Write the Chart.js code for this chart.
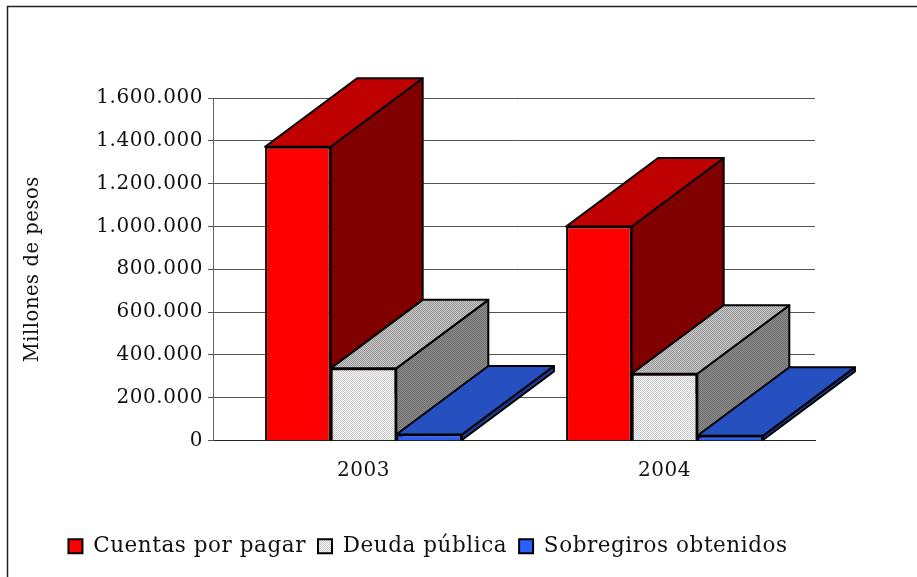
<!DOCTYPE html>
<html><head><meta charset="utf-8">
<style>html,body{margin:0;padding:0;background:#fff;overflow:hidden}#wrap{position:relative;width:917px;height:577px}canvas{display:block}</style>
<script src="https://cdn.jsdelivr.net/npm/chart.js@4"></script>
</head><body><div id="wrap"><canvas id="c" width="917" height="577"></canvas></div>
<script>
const categories = ['2003', '2004'];
const cuentasPorPagar = [1372000, 1000000];
const deudaPublica = [337000, 312000];
const sobregirosObtenidos = [28000, 22000];
const seriesNames = ['Cuentas por pagar', 'Deuda pública', 'Sobregiros obtenidos'];
const yMax = 1600000, yStep = 200000;
const FONT = '"DejaVu Serif"';

function dither(a, b) {
  const p = document.createElement('canvas'); p.width = 2; p.height = 2;
  const x = p.getContext('2d');
  x.fillStyle = a; x.fillRect(0, 0, 2, 2);
  x.fillStyle = b; x.fillRect(0, 0, 1, 1); x.fillRect(1, 1, 1, 1);
  return x.createPattern(p, 'repeat');
}
const DEPTH_X = 92, DEPTH_Y = 68.5;
const faces = [
  {top: '#bf0000', side: '#800000'},
  {top: dither('#c8c8c8', '#969696'), side: dither('#8c8c8c', '#6e6e6e')},
  {top: '#264fbf', side: '#1c3a8f'}
];
const frontFill = ['#ff0000', dither('#ffffff', '#c4c4c4'), '#2a5fff'];

const depthPlugin = {
  id: 'depth',
  beforeUpdate(chart) { chart.ctx.letterSpacing = '0.55px'; },
  beforeDraw(chart) {
    const c = chart.ctx;
    c.letterSpacing = '0.55px';
    c.save();
    c.strokeStyle = '#222'; c.lineWidth = 1.5;
    c.beginPath(); c.moveTo(7.5, 577); c.lineTo(7.5, 6.5); c.lineTo(917, 6.5); c.stroke();
    c.restore();
  },
  beforeDatasetsDraw(chart) {
    const c = chart.ctx;
    chart.data.datasets.forEach((ds, di) => {
      chart.getDatasetMeta(di).data.forEach(bar => {
        const l = bar.x - bar.width / 2, r = bar.x + bar.width / 2, t = bar.y, b = bar.base;
        c.save();
        c.lineWidth = 2; c.strokeStyle = '#000'; c.lineJoin = 'round';
        c.beginPath(); c.moveTo(r, t); c.lineTo(r + DEPTH_X, t - DEPTH_Y); c.lineTo(r + DEPTH_X, b - DEPTH_Y); c.lineTo(r, b); c.closePath();
        c.fillStyle = faces[di].side; c.fill(); c.stroke();
        c.beginPath(); c.moveTo(l, t); c.lineTo(l + DEPTH_X, t - DEPTH_Y); c.lineTo(r + DEPTH_X, t - DEPTH_Y); c.lineTo(r, t); c.closePath();
        c.fillStyle = faces[di].top; c.fill(); c.stroke();
        c.restore();
      });
    });
  }
};

new Chart(document.getElementById('c'), {
  type: 'bar',
  data: {
    labels: categories,
    datasets: [cuentasPorPagar, deudaPublica, sobregirosObtenidos].map((v, i) => ({
      label: seriesNames[i], data: v,
      backgroundColor: frontFill[i], borderColor: '#000', borderWidth: 2,
      barPercentage: 1, categoryPercentage: 0.654
    }))
  },
  options: {
    responsive: false, animation: false, devicePixelRatio: 1,
    layout: {padding: {left: 41, right: 102, top: 98, bottom: 10}},
    scales: {
      x: {
        grid: {display: false, drawTicks: false},
        border: {color: '#222', width: 1},
        ticks: {color: '#111', font: {family: FONT, size: 20}, padding: 18},
        afterFit(s) { s.height = 83; }
      },
      y: {
        min: 0, max: yMax,
        grid: {color: '#555', lineWidth: 1, tickLength: 5},
        border: {color: '#666', width: 1},
        ticks: {stepSize: yStep, color: '#111', padding: 5, font: {family: FONT, size: 20},
          callback: v => String(v).replace(/\B(?=(\d{3})+$)/g, '.')},
        title: {display: true, text: 'Millones de pesos', color: '#111', font: {family: FONT, size: 19.5}, padding: {top: -19.5, bottom: 0}},
        afterFit(s) { s.width = 172; }
      }
    },
    plugins: {
      tooltip: {enabled: false},
      legend: {position: 'bottom', labels: {boxWidth: 14, boxHeight: 14, padding: 12, color: '#111', font: {family: FONT, size: 21.5}}}
    }
  },
  plugins: [depthPlugin]
});
</script></body></html>
